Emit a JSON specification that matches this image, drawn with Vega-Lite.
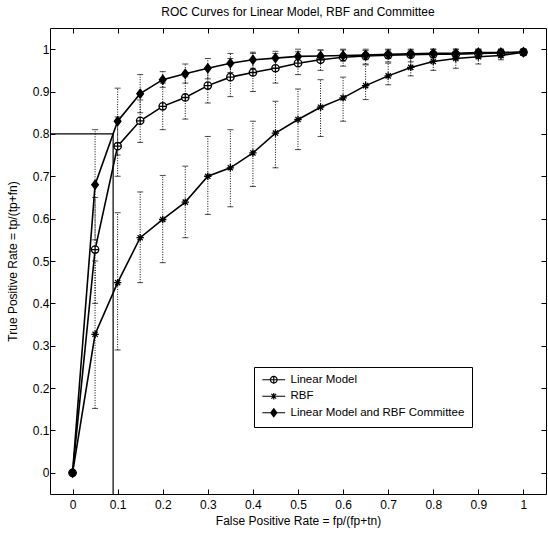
{
  "$schema": "https://vega.github.io/schema/vega-lite/v6.json",
  "autosize": "none",
  "width": 496,
  "height": 466,
  "padding": {"left": 50, "top": 28, "right": 2, "bottom": 41},
  "background": "white",
  "config": {
    "view": {"stroke": "black", "strokeWidth": 1},
    "font": "Liberation Sans",
    "axis": {"grid": false, "domain": false, "tickColor": "black", "tickSize": -5, "labelColor": "black", "labelFontSize": 12, "labelFont": "Liberation Sans", "titleFont": "Liberation Sans", "titleFontSize": 12, "titleFontWeight": "normal", "titleColor": "black"}
  },
  "title": {"text": "ROC Curves for Linear Model, RBF and Committee", "fontSize": 12, "fontWeight": "normal", "font": "Liberation Sans", "color": "black", "offset": 9},
  "datasets": {
    "roc": [
      {"s": "Linear Model", "x": 0, "y": 0, "lo": 0, "hi": 0},
      {"s": "Linear Model", "x": 0.05, "y": 0.527, "lo": 0.40, "hi": 0.65},
      {"s": "Linear Model", "x": 0.1, "y": 0.771, "lo": 0.70, "hi": 0.84},
      {"s": "Linear Model", "x": 0.15, "y": 0.831, "lo": 0.78, "hi": 0.88},
      {"s": "Linear Model", "x": 0.2, "y": 0.865, "lo": 0.81, "hi": 0.92},
      {"s": "Linear Model", "x": 0.25, "y": 0.886, "lo": 0.835, "hi": 0.935},
      {"s": "Linear Model", "x": 0.3, "y": 0.914, "lo": 0.873, "hi": 0.955},
      {"s": "Linear Model", "x": 0.35, "y": 0.934, "lo": 0.888, "hi": 0.978},
      {"s": "Linear Model", "x": 0.4, "y": 0.945, "lo": 0.90, "hi": 0.99},
      {"s": "Linear Model", "x": 0.45, "y": 0.955, "lo": 0.92, "hi": 0.99},
      {"s": "Linear Model", "x": 0.5, "y": 0.967, "lo": 0.94, "hi": 0.994},
      {"s": "Linear Model", "x": 0.55, "y": 0.975, "lo": 0.95, "hi": 0.998},
      {"s": "Linear Model", "x": 0.6, "y": 0.981, "lo": 0.96, "hi": 1.0},
      {"s": "Linear Model", "x": 0.65, "y": 0.984, "lo": 0.965, "hi": 1.0},
      {"s": "Linear Model", "x": 0.7, "y": 0.986, "lo": 0.97, "hi": 1.0},
      {"s": "Linear Model", "x": 0.75, "y": 0.987, "lo": 0.97, "hi": 1.0},
      {"s": "Linear Model", "x": 0.8, "y": 0.988, "lo": 0.972, "hi": 1.0},
      {"s": "Linear Model", "x": 0.85, "y": 0.988, "lo": 0.975, "hi": 1.0},
      {"s": "Linear Model", "x": 0.9, "y": 0.99, "lo": 0.978, "hi": 1.0},
      {"s": "Linear Model", "x": 0.95, "y": 0.991, "lo": 0.98, "hi": 1.0},
      {"s": "Linear Model", "x": 1.0, "y": 0.993, "lo": 0.985, "hi": 1.0},
      {"s": "RBF", "x": 0, "y": 0, "lo": 0, "hi": 0},
      {"s": "RBF", "x": 0.05, "y": 0.327, "lo": 0.152, "hi": 0.50},
      {"s": "RBF", "x": 0.1, "y": 0.449, "lo": 0.29, "hi": 0.614},
      {"s": "RBF", "x": 0.15, "y": 0.555, "lo": 0.449, "hi": 0.663},
      {"s": "RBF", "x": 0.2, "y": 0.598, "lo": 0.496, "hi": 0.702},
      {"s": "RBF", "x": 0.25, "y": 0.639, "lo": 0.555, "hi": 0.724},
      {"s": "RBF", "x": 0.3, "y": 0.70, "lo": 0.61, "hi": 0.794},
      {"s": "RBF", "x": 0.35, "y": 0.72, "lo": 0.628, "hi": 0.81},
      {"s": "RBF", "x": 0.4, "y": 0.755, "lo": 0.676, "hi": 0.83},
      {"s": "RBF", "x": 0.45, "y": 0.802, "lo": 0.72, "hi": 0.877},
      {"s": "RBF", "x": 0.5, "y": 0.834, "lo": 0.763, "hi": 0.906},
      {"s": "RBF", "x": 0.55, "y": 0.863, "lo": 0.794, "hi": 0.928},
      {"s": "RBF", "x": 0.6, "y": 0.885, "lo": 0.83, "hi": 0.934},
      {"s": "RBF", "x": 0.65, "y": 0.914, "lo": 0.881, "hi": 0.963},
      {"s": "RBF", "x": 0.7, "y": 0.937, "lo": 0.916, "hi": 0.967},
      {"s": "RBF", "x": 0.75, "y": 0.957, "lo": 0.937, "hi": 0.985},
      {"s": "RBF", "x": 0.8, "y": 0.971, "lo": 0.95, "hi": 0.99},
      {"s": "RBF", "x": 0.85, "y": 0.978, "lo": 0.955, "hi": 0.995},
      {"s": "RBF", "x": 0.9, "y": 0.982, "lo": 0.965, "hi": 0.998},
      {"s": "RBF", "x": 0.95, "y": 0.985, "lo": 0.975, "hi": 0.998},
      {"s": "RBF", "x": 1.0, "y": 0.993, "lo": 0.985, "hi": 1.0},
      {"s": "Linear Model and RBF Committee", "x": 0, "y": 0, "lo": 0, "hi": 0},
      {"s": "Linear Model and RBF Committee", "x": 0.05, "y": 0.68, "lo": 0.55, "hi": 0.81},
      {"s": "Linear Model and RBF Committee", "x": 0.1, "y": 0.83, "lo": 0.75, "hi": 0.908},
      {"s": "Linear Model and RBF Committee", "x": 0.15, "y": 0.895, "lo": 0.85, "hi": 0.94},
      {"s": "Linear Model and RBF Committee", "x": 0.2, "y": 0.928, "lo": 0.91, "hi": 0.947},
      {"s": "Linear Model and RBF Committee", "x": 0.25, "y": 0.942, "lo": 0.92, "hi": 0.965},
      {"s": "Linear Model and RBF Committee", "x": 0.3, "y": 0.955, "lo": 0.93, "hi": 0.978},
      {"s": "Linear Model and RBF Committee", "x": 0.35, "y": 0.967, "lo": 0.945, "hi": 0.99},
      {"s": "Linear Model and RBF Committee", "x": 0.4, "y": 0.975, "lo": 0.955, "hi": 0.993},
      {"s": "Linear Model and RBF Committee", "x": 0.45, "y": 0.979, "lo": 0.96, "hi": 0.995},
      {"s": "Linear Model and RBF Committee", "x": 0.5, "y": 0.983, "lo": 0.965, "hi": 1.0},
      {"s": "Linear Model and RBF Committee", "x": 0.55, "y": 0.984, "lo": 0.97, "hi": 0.998},
      {"s": "Linear Model and RBF Committee", "x": 0.6, "y": 0.985, "lo": 0.972, "hi": 0.998},
      {"s": "Linear Model and RBF Committee", "x": 0.65, "y": 0.986, "lo": 0.975, "hi": 0.997},
      {"s": "Linear Model and RBF Committee", "x": 0.7, "y": 0.988, "lo": 0.978, "hi": 0.998},
      {"s": "Linear Model and RBF Committee", "x": 0.75, "y": 0.989, "lo": 0.98, "hi": 0.998},
      {"s": "Linear Model and RBF Committee", "x": 0.8, "y": 0.99, "lo": 0.98, "hi": 1.0},
      {"s": "Linear Model and RBF Committee", "x": 0.85, "y": 0.99, "lo": 0.98, "hi": 1.0},
      {"s": "Linear Model and RBF Committee", "x": 0.9, "y": 0.992, "lo": 0.982, "hi": 1.0},
      {"s": "Linear Model and RBF Committee", "x": 0.95, "y": 0.992, "lo": 0.984, "hi": 1.0},
      {"s": "Linear Model and RBF Committee", "x": 1.0, "y": 0.993, "lo": 0.986, "hi": 0.999}
    ],
    "refs": [
      {"x": -0.05, "x2": 0.09, "y": 0.8, "y2": 0.8},
      {"x": 0.09, "x2": 0.09, "y": 0.8, "y2": -0.05}
    ]
  },
  "resolve": {"axis": {"x": "independent", "y": "independent"}, "scale": {"shape": "independent"}, "legend": {"shape": "independent"}},
  "layer": [
    {
      "data": {"name": "refs"},
      "mark": {"type": "rule", "color": "black", "strokeWidth": 1.2},
      "encoding": {
        "x": {"field": "x", "type": "quantitative", "scale": {"domain": [-0.05, 1.05], "nice": false, "zero": false},
              "axis": {"orient": "top", "labels": false, "title": null, "values": [0,0.1,0.2,0.3,0.4,0.5,0.6,0.7,0.8,0.9,1]}},
        "x2": {"field": "x2"},
        "y": {"field": "y", "type": "quantitative", "scale": {"domain": [-0.05, 1.05], "nice": false, "zero": false},
              "axis": {"orient": "right", "labels": false, "title": null, "values": [0,0.1,0.2,0.3,0.4,0.5,0.6,0.7,0.8,0.9,1]}},
        "y2": {"field": "y2"}
      }
    },
    {
      "data": {"name": "roc"},
      "mark": {"type": "rule", "color": "black", "strokeWidth": 1, "strokeDash": [1, 1.5]},
      "encoding": {
        "x": {"field": "x", "type": "quantitative",
              "axis": {"orient": "bottom", "title": "False Positive Rate = fp/(fp+tn)", "values": [0,0.1,0.2,0.3,0.4,0.5,0.6,0.7,0.8,0.9,1], "format": "~g", "labelPadding": 10, "titlePadding": 5}},
        "y": {"field": "lo", "type": "quantitative",
              "axis": {"orient": "left", "title": "True Positive Rate = tp/(tp+fn)", "values": [0,0.1,0.2,0.3,0.4,0.5,0.6,0.7,0.8,0.9,1], "format": "~g", "labelPadding": 6, "titlePadding": 13}},
        "y2": {"field": "hi"}
      }
    },
    {
      "data": {"name": "roc"},
      "mark": {"type": "tick", "orient": "horizontal", "size": 6, "thickness": 1, "color": "black", "strokeDash": [1, 1]},
      "encoding": {
        "x": {"field": "x", "type": "quantitative", "axis": null},
        "y": {"field": "lo", "type": "quantitative", "axis": null}
      }
    },
    {
      "data": {"name": "roc"},
      "mark": {"type": "tick", "orient": "horizontal", "size": 6, "thickness": 1, "color": "black", "strokeDash": [1, 1]},
      "encoding": {
        "x": {"field": "x", "type": "quantitative", "axis": null},
        "y": {"field": "hi", "type": "quantitative", "axis": null}
      }
    },
    {
      "data": {"name": "roc"},
      "mark": {"type": "line", "color": "black", "strokeWidth": 1.6},
      "encoding": {
        "x": {"field": "x", "type": "quantitative", "axis": null},
        "y": {"field": "y", "type": "quantitative", "axis": null},
        "detail": {"field": "s"}
      }
    },
    {
      "data": {"name": "roc"},
      "mark": {"type": "point", "filled": false, "stroke": "black", "strokeWidth": 1.3, "size": 55, "opacity": 1},
      "encoding": {
        "x": {"field": "x", "type": "quantitative", "axis": null},
        "y": {"field": "y", "type": "quantitative", "axis": null},
        "fill": {"field": "s", "type": "nominal", "legend": null,
                 "scale": {"domain": ["Linear Model", "RBF", "Linear Model and RBF Committee"], "range": ["white", "black", "black"]}},
        "shape": {"field": "s", "type": "nominal", "legend": null,
                  "scale": {"domain": ["Linear Model", "RBF", "Linear Model and RBF Committee"],
                            "range": ["M1,0A1,1 0 1,1 -1,0A1,1 0 1,1 1,0ZM-1,0H1M0,-1V1", "M-1,0H1M0,-1V1M-0.7,-0.7L0.7,0.7M-0.7,0.7L0.7,-0.7", "M0,-1.2L0.9,0L0,1.2L-0.9,0Z"]}}
      }
    },
    {
      "data": {"name": "roc"},
      "transform": [{"filter": "datum.x === 0"}],
      "mark": {"type": "point", "filled": false, "stroke": "black", "strokeWidth": 1.2, "size": 45, "opacity": 0},
      "encoding": {
        "x": {"field": "x", "type": "quantitative", "axis": null},
        "y": {"field": "y", "type": "quantitative", "axis": null},
        "shape": {"field": "s", "type": "nominal",
                  "scale": {"domain": ["Linear Model", "RBF", "Linear Model and RBF Committee"],
                            "range": ["M-3.4,0H-1M1,0H3.4M1,0A1,1 0 1,1 -1,0A1,1 0 1,1 1,0ZM-1,0H1M0,-1V1",
                                      "M-3.4,0H3.4M0,-1V1M-0.7,-0.7L0.7,0.7M-0.7,0.7L0.7,-0.7",
                                      "M-3.4,0H3.4M0,-1.2L0.9,0L0,1.2L-0.9,0ZM0,-0.8L0.6,0L0,0.8L-0.6,0ZM0,-0.4L0.3,0L0,0.4L-0.3,0Z"]},
                  "legend": {"title": null, "orient": "none", "legendX": 204, "legendY": 339, "strokeColor": "black", "fillColor": "white",
                             "padding": 7, "symbolSize": 45, "symbolOffset": 7, "labelOffset": 11, "labelFontSize": 11.5, "labelFont": "Liberation Sans", "labelColor": "black", "rowPadding": 3.5, "symbolStrokeColor": "black", "symbolStrokeWidth": 1.2, "symbolOpacity": 1, "labelLimit": 300}}
      }
    }
  ]
}
